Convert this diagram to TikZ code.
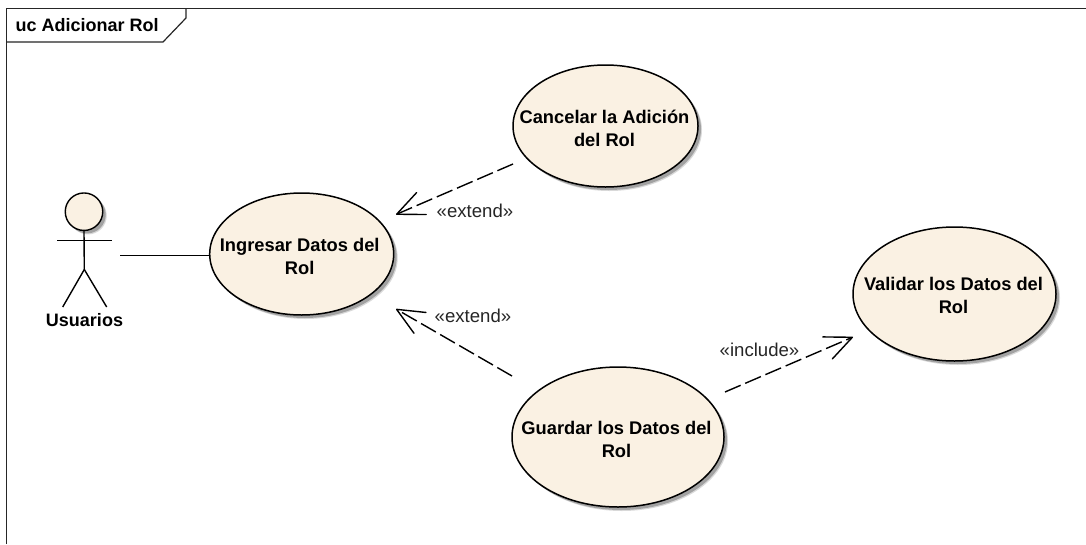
\documentclass[tikz,border=0pt]{standalone}
\usepackage{fontspec}
\setmainfont{Liberation Sans}
\usetikzlibrary{arrows.meta,shadows,shapes.geometric}
\definecolor{ucfill}{RGB}{250,241,227}
\tikzset{
  softshadow/.style={
    drop shadow={shadow xshift=4pt,shadow yshift=-4pt,fill=black,opacity=.15},
    drop shadow={shadow xshift=3pt,shadow yshift=-3pt,fill=black,opacity=.25}},
  usecase/.style={ellipse,draw=black,line width=1.5pt,fill=ucfill,softshadow,inner sep=0pt},
  linkline/.style={line width=1.4pt,black},
  dep/.style={linkline,dash pattern=on 17pt off 5pt,
    -{Straight Barb[length=27pt,width=24pt,line width=1.4pt,round]}},
  deplabel/.style={font=\fontsize{18.6}{20}\selectfont,text=black!85,inner sep=0pt},
  actorline/.style={line width=1.4pt,black},
  uctext/.style={inner sep=0pt,align=center,font=\fontsize{18.3}{23}\selectfont\bfseries,text=black}
}
\begin{document}
\begin{tikzpicture}[x=1pt,y=-1pt]
\useasboundingbox (0,0) rectangle (1086,544);
\fill[white] (0,0) rectangle (1086,544);
% frame
\draw[line width=1.2pt,black!85] (6.5,544) -- (6.5,8.5) -- (1086,8.5);
\draw[line width=1.2pt,black!85] (6.5,42) -- (163,42) -- (186,18) -- (186,8.5);
\node[anchor=base west,inner sep=0pt,font=\fontsize{18}{20}\selectfont\bfseries] (title) at (15.5,31.5) {uc Adicionar Rol};
% actor
\node[circle,draw=black,line width=1.4pt,fill=ucfill,minimum size=37.5pt,inner sep=0pt,softshadow] (head) at (84,211.7) {};
\coordinate (hip) at (84.3,269.5);
\coordinate (armL) at (57.3,240.4);
\coordinate (armR) at (112.3,240.4);
\coordinate (footL) at (62.7,307);
\coordinate (footR) at (106.7,307);
\draw[actorline] (head.south) -- (hip) -- (footL);
\draw[actorline] (hip) -- (footR);
\draw[actorline] (armL) -- (armR);
\node[anchor=base,inner sep=0pt,font=\fontsize{18}{20}\selectfont\bfseries] (usuarios) at (84.5,326) {Usuarios};
% use cases
\node[usecase,minimum width=184pt,minimum height=122pt] (ingresar) at (301.7,254) {};
\node[usecase,minimum width=185pt,minimum height=122pt] (cancelar) at (605.5,126) {};
\node[usecase,minimum width=203pt,minimum height=134pt] (validar) at (954.5,294) {};
\node[usecase,minimum width=212pt,minimum height=140pt] (guardar) at (618,437) {};
\node[uctext] (ingresarT) at (299.7,256.5) {Ingresar Datos del\\Rol};
\node[uctext] (cancelarT) at (604.5,128.5) {Cancelar la Adición\\del Rol};
\node[uctext] (validarT) at (953.5,295.5) {Validar los Datos del\\Rol};
\node[uctext] (guardarT) at (616.5,439.5) {Guardar los Datos del\\Rol};
% connectors
\coordinate (actorEnd) at (120,255.3);
\draw[linkline] (actorEnd) -- (actorEnd -| ingresar.west);
\coordinate (cancelFrom) at (513,164);
\coordinate (cancelTo) at (396,214.5);
\coordinate (guardFrom) at (512,376);
\coordinate (guardTo) at (396,309);
\coordinate (inclFrom) at (725,392);
\coordinate (inclTo) at (853,337);
\draw[dep] (cancelFrom) -- (cancelTo);
\draw[dep] (guardFrom) -- (guardTo);
\draw[dep] (inclFrom) -- (inclTo);
\node[deplabel,anchor=base west] (l1) at (436.5,217) {«extend»};
\node[deplabel,anchor=base west] (l2) at (434.5,322) {«extend»};
\node[deplabel,anchor=base west] (l3) at (719.5,356) {«include»};
\end{tikzpicture}
\end{document}
